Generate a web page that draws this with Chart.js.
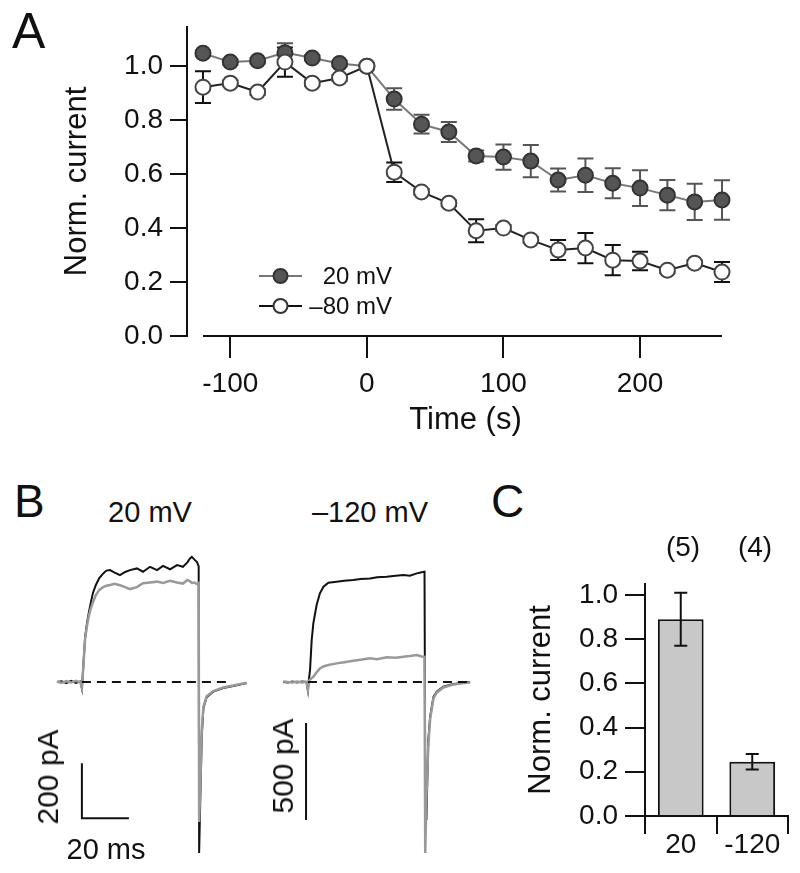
<!DOCTYPE html>
<html>
<head>
<meta charset="utf-8">
<script src="https://cdn.jsdelivr.net/npm/chart.js@4.4.1/dist/chart.umd.min.js"></script>
<style>
  body { margin: 0; background: #fff; }
  #fig { position: relative; width: 800px; height: 873px; font-family: "Liberation Sans", Arial, sans-serif; color: #111; }
  #fig canvas { position: absolute; }
  .lbl { position: absolute; line-height: 1; white-space: nowrap; }
  .ctr { text-align: center; }
  .rot { transform: translate(-50%, -50%) rotate(-90deg); }
</style>
</head>
<body>
<div id="fig">
  <canvas id="chartA" width="800" height="460" style="left:0;top:0"></canvas>
  <canvas id="chartB1" width="220" height="330" style="left:40px;top:540px"></canvas>
  <canvas id="chartB2" width="215" height="330" style="left:265px;top:540px"></canvas>
  <canvas id="chartC" width="280" height="313" style="left:520px;top:560px"></canvas>

  <div class="lbl" style="left:12px;top:6px;font-size:50px">A</div>
  <div class="lbl" style="left:14px;top:478px;font-size:46px">B</div>
  <div class="lbl" style="left:491px;top:478px;font-size:46px">C</div>

  <div class="lbl ctr" style="left:90px;width:120px;top:498px;font-size:29px">20 mV</div>
  <div class="lbl ctr" style="left:300px;width:140px;top:498px;font-size:29px">–120 mV</div>
  <div class="lbl ctr" style="left:56px;width:100px;top:835px;font-size:29px">20 ms</div>
  <div class="lbl rot" style="left:48px;top:777px;font-size:30px">200 pA</div>
  <div class="lbl rot" style="left:283px;top:766px;font-size:30px">500 pA</div>

  <div class="lbl ctr" style="left:653px;width:60px;top:533px;font-size:28px">(5)</div>
  <div class="lbl ctr" style="left:725px;width:60px;top:533px;font-size:28px">(4)</div>
</div>

<script>
// ---- Panel A: normalized current vs time ----
const timeS   = [-120, -100, -80, -60, -40, -20, 0, 20, 40, 60, 80, 100, 120, 140, 160, 180, 200, 220, 240, 260];
const cur20   = [1.048, 1.015, 1.02, 1.05, 1.03, 1.01, 1.0, 0.878, 0.785, 0.756, 0.667, 0.663, 0.648, 0.578, 0.596, 0.566, 0.548, 0.522, 0.497, 0.504];
const err20   = [0.01, 0.01, 0.01, 0.035, 0.01, 0.01, 0, 0.04, 0.035, 0.037, 0.02, 0.047, 0.06, 0.043, 0.062, 0.056, 0.066, 0.056, 0.067, 0.073];
const curM80  = [0.922, 0.937, 0.904, 1.015, 0.937, 0.956, 1.0, 0.607, 0.534, 0.492, 0.39, 0.40, 0.356, 0.319, 0.326, 0.281, 0.278, 0.244, 0.27, 0.237];
const errM80  = [0.059, 0.01, 0.01, 0.054, 0.01, 0.01, 0, 0.036, 0.01, 0.01, 0.043, 0.01, 0.01, 0.037, 0.056, 0.056, 0.034, 0.01, 0.01, 0.037];
const seriesA = ['20 mV', '–80 mV'];
const xTicksA = [-100, 0, 100, 200];
const yTicks  = [0, 0.2, 0.4, 0.6, 0.8, 1.0];

// ---- Panel B: current traces (ms, pA) ----
const tB1     = [0, 2, 4, 6, 8, 10, 10.6, 11, 11.5, 12, 12.8, 13.5, 14.3, 15.3, 16.5, 18, 19.6, 21, 22.6, 24.5, 26.8, 29, 31.1, 34, 36.6, 39.6, 42.6, 45.1, 48.1, 51.1, 53.6, 55.5, 56.6, 57.4, 58.5, 59.6, 60.3, 60.5, 61, 61.6, 62.3, 63.7, 66.5, 70.8, 76.5, 80.7];
const iB1ctl  = [0, 3, -4, 4, -3, 2, -22, 30, 100, 165, 215, 250, 285, 324, 352, 378, 394, 405, 407, 398, 389, 400, 407, 413, 401, 419, 407, 422, 410, 425, 419, 435, 449, 455, 445, 436, 420, -622, -420, -200, -95, -55, -35, -22, -12, -4];
const iB1drug = [2, -3, 3, -2, 4, -1, -22, 28, 95, 160, 205, 238, 265, 290, 315, 335, 345, 350, 353, 357, 352, 345, 338, 345, 359, 362, 365, 360, 368, 362, 358, 371, 366, 360, 362, 356, 360, -509, -380, -180, -90, -52, -33, -20, -10, -3];
const tB2     = [0, 2, 4, 6, 8, 10, 10.6, 11, 11.5, 12.2, 12.9, 14.3, 15.7, 17.2, 19.3, 22.8, 26, 29.9, 33, 37, 40, 44.1, 48, 51.2, 54, 56.9, 59, 60.2, 60.5, 61, 61.8, 62.6, 64, 65.4, 68.2, 72, 76, 79.6];
const iB2ctl  = [0, -3, 3, -2, 2, 0, -41, 10, 62, 216, 302, 397, 457, 491, 512, 517, 522, 526, 531, 534, 540, 543, 548, 552, 548, 560, 566, 569, -480, -711, -299, -179, -76, -50, -24, -12, -5, 0];
const iB2drug = [3, 0, -3, 2, -2, 1, -41, 5, 12, 20, 27, 50, 70, 80, 88, 96, 102, 110, 115, 122, 118, 127, 125, 130, 134, 139, 132, 130, -881, -600, -330, -190, -85, -55, -28, -14, -6, -2];

// ---- Panel C: bars ----
const catsC = ['20', '-120'];
const valsC = [0.89, 0.245];
const errsC = [0.12, 0.035];

Chart.defaults.font.family = '"Liberation Sans", Arial, sans-serif';
Chart.defaults.color = '#111';
Chart.defaults.animation = false;

const BLACK = '#111';
const GRAY = '#999';

function errorBarsPlugin(afterData) {
  const draw = (chart) => {
    const { ctx } = chart;
    const ys = chart.scales.y;
    chart.data.datasets.forEach((ds, di) => {
      if (!ds.errors) return;
      const meta = chart.getDatasetMeta(di);
      ctx.save();
      ctx.strokeStyle = ds.errorColor;
      ctx.lineWidth = 2;
      meta.data.forEach((el, i) => {
        const e = ds.errors[i];
        if (!e) return;
        const raw = ds.data[i];
        const v = typeof raw === 'object' ? raw.y : raw;
        const top = ys.getPixelForValue(v + e), bot = ys.getPixelForValue(v - e);
        const w = ds.capWidth / 2;
        ctx.beginPath();
        ctx.moveTo(el.x, top); ctx.lineTo(el.x, bot);
        ctx.moveTo(el.x - w, top); ctx.lineTo(el.x + w, top);
        ctx.moveTo(el.x - w, bot); ctx.lineTo(el.x + w, bot);
        ctx.stroke();
      });
      ctx.restore();
    });
  };
  return afterData ? { id: 'errorBars', afterDatasetsDraw: draw } : { id: 'errorBars', beforeDatasetsDraw: draw };
}

// x axis line of panel A spans the sampled range only (gap to the y axis), title centred under it
const axisLineA = {
  id: 'axisLineA',
  afterDraw(chart) {
    const { ctx } = chart;
    const xs = chart.scales.x, ys = chart.scales.y;
    const y = ys.getPixelForValue(0);
    const x0 = xs.getPixelForValue(timeS[0]);
    const x1 = xs.getPixelForValue(timeS[timeS.length - 1]);
    ctx.save();
    ctx.strokeStyle = BLACK;
    ctx.lineWidth = 2;
    ctx.beginPath();
    ctx.moveTo(x0, y);
    ctx.lineTo(x1, y);
    ctx.stroke();
    ctx.fillStyle = BLACK;
    ctx.font = '31px "Liberation Sans", Arial, sans-serif';
    ctx.textAlign = 'center';
    ctx.textBaseline = 'middle';
    ctx.fillText('Time (s)', (x0 + x1) / 2 + 3, 420);
    ctx.restore();
  }
};

const legendA = {
  id: 'legendA',
  afterDraw(chart) {
    const { ctx } = chart;
    const rows = [
      { y: 276, line: '#777', fill: '#555', stroke: '#333' },
      { y: 306, line: BLACK, fill: '#fff', stroke: '#333' }
    ];
    ctx.save();
    ctx.font = '24px "Liberation Sans", Arial, sans-serif';
    ctx.textAlign = 'right';
    ctx.textBaseline = 'middle';
    rows.forEach((r, i) => {
      ctx.strokeStyle = r.line;
      ctx.lineWidth = 2;
      ctx.beginPath(); ctx.moveTo(259, r.y); ctx.lineTo(302, r.y); ctx.stroke();
      ctx.beginPath(); ctx.arc(280.5, r.y, 7, 0, Math.PI * 2);
      ctx.fillStyle = r.fill; ctx.fill();
      ctx.strokeStyle = r.stroke; ctx.stroke();
      ctx.fillStyle = BLACK;
      ctx.fillText(seriesA[i], 392, r.y + 1);
    });
    ctx.restore();
  }
};

new Chart(document.getElementById('chartA').getContext('2d'), {
  type: 'line',
  data: {
    datasets: [{
      label: seriesA[0],
      data: timeS.map((t, i) => ({ x: t, y: cur20[i] })),
      errors: err20, errorColor: '#555', capWidth: 16,
      borderColor: '#777', borderWidth: 2,
      pointRadius: 7.5, pointBackgroundColor: '#555', pointBorderColor: '#333', pointBorderWidth: 2,
      order: 1, clip: false
    }, {
      label: seriesA[1],
      data: timeS.map((t, i) => ({ x: t, y: curM80[i] })),
      errors: errM80, errorColor: BLACK, capWidth: 16,
      borderColor: '#222', borderWidth: 2,
      pointRadius: 7.5, pointBackgroundColor: '#fff', pointBorderColor: '#444', pointBorderWidth: 2,
      order: 0, clip: false
    }]
  },
  options: {
    responsive: false,
    devicePixelRatio: 1,
    layout: { padding: { top: 27, right: 78, left: 0, bottom: 0 } },
    plugins: { legend: { display: false }, tooltip: { enabled: false } },
    scales: {
      x: {
        type: 'linear', min: -131.7, max: 260,
        afterBuildTicks: s => { s.ticks = xTicksA.map(v => ({ value: v })); },
        afterFit: s => { s.height = 124; },
        border: { display: false },
        grid: { drawOnChartArea: false, tickLength: 22, color: BLACK, lineWidth: 2 },
        ticks: { font: { size: 28 }, padding: 9, maxRotation: 0 }
      },
      y: {
        min: 0, max: 1.145,
        afterBuildTicks: s => { s.ticks = yTicks.map(v => ({ value: v })); },
        afterFit: s => { s.width = 187; },
        border: { color: BLACK, width: 2 },
        grid: { drawOnChartArea: false, tickLength: 17, color: BLACK, lineWidth: 2 },
        ticks: { font: { size: 28 }, padding: 7, callback: v => v.toFixed(1) },
        title: { display: true, text: 'Norm. current', font: { size: 31 }, padding: { top: 59, bottom: 0 } }
      }
    }
  },
  plugins: [errorBarsPlugin(false), axisLineA, legendA]
});

// ---- Panel B helper: traces (first in list drawn on top), dashed zero line, scale bar ----
function traceChart(id, t, traces, baseEnd, bars, xr, yr) {
  const datasets = traces.map((tr, k) => ({
    data: t.map((v, i) => ({ x: v, y: tr.vals[i] })),
    borderColor: tr.color, borderWidth: tr.width, pointRadius: 0, tension: 0, clip: false, order: k
  }));
  datasets.push({
    data: [{ x: 10.6, y: 0 }, { x: baseEnd, y: 0 }],
    borderColor: BLACK, borderWidth: 2, borderDash: [9, 6], pointRadius: 0, order: -1
  });
  datasets.push({
    data: bars, borderColor: BLACK, borderWidth: 2, pointRadius: 0, tension: 0, order: 5
  });
  return new Chart(document.getElementById(id).getContext('2d'), {
    type: 'line',
    data: { datasets },
    options: {
      responsive: false,
      devicePixelRatio: 1,
      layout: { padding: 0 },
      plugins: { legend: { display: false }, tooltip: { enabled: false } },
      scales: {
        x: { type: 'linear', display: false, min: xr[0], max: xr[1] },
        y: { display: false, min: yr[0], max: yr[1] }
      }
    }
  });
}

const bar1 = { t: 10.6, i: -495, ms: 20, pA: 200 };
traceChart('chartB1', tB1,
  [{ vals: iB1drug, color: GRAY, width: 2.5 }, { vals: iB1ctl, color: BLACK, width: 2 }],
  73.6,
  [{ x: bar1.t, y: bar1.i + bar1.pA }, { x: bar1.t, y: bar1.i }, { x: bar1.t + bar1.ms, y: bar1.i }],
  [-7.23, 86.4], [-683.6, 516.4]);

const bar2 = { t: 9.8, i: -711, pA: 500 };
traceChart('chartB2', tB2,
  [{ vals: iB2drug, color: GRAY, width: 2.5 }, { vals: iB2ctl, color: BLACK, width: 2 }],
  79.6,
  [{ x: bar2.t, y: bar2.i + bar2.pA }, { x: bar2.t, y: bar2.i }],
  [-7.66, 83.8], [-969, 732]);

// ---- Panel C ----
new Chart(document.getElementById('chartC').getContext('2d'), {
  type: 'bar',
  data: {
    labels: catsC,
    datasets: [{
      data: valsC,
      errors: errsC, errorColor: BLACK, capWidth: 13,
      backgroundColor: '#c8c8c8', borderColor: BLACK, borderWidth: 2,
      categoryPercentage: 1, barPercentage: 0.64
    }]
  },
  options: {
    responsive: false,
    devicePixelRatio: 1,
    layout: { padding: { top: 22, right: 12, left: 0, bottom: 0 } },
    plugins: { legend: { display: false }, tooltip: { enabled: false } },
    scales: {
      x: {
        afterFit: s => { s.height = 57; },
        border: { color: BLACK, width: 2 },
        grid: { drawOnChartArea: false, tickLength: 18, color: BLACK, lineWidth: 2, offset: true },
        ticks: { font: { size: 28, lineHeight: 1 }, padding: -3, maxRotation: 0 }
      },
      y: {
        min: 0, max: 1.05,
        afterBuildTicks: s => { s.ticks = yTicks.map(v => ({ value: v })); },
        afterFit: s => { s.width = 125; },
        border: { color: BLACK, width: 2 },
        grid: { drawOnChartArea: false, tickLength: 20, color: BLACK, lineWidth: 2 },
        ticks: { font: { size: 28 }, padding: 7, callback: v => v.toFixed(1) },
        title: { display: true, text: 'Norm. current', font: { size: 31 }, padding: { top: 3, bottom: 0 } }
      }
    }
  },
  plugins: [errorBarsPlugin(true)]
});
</script>
</body>
</html>
